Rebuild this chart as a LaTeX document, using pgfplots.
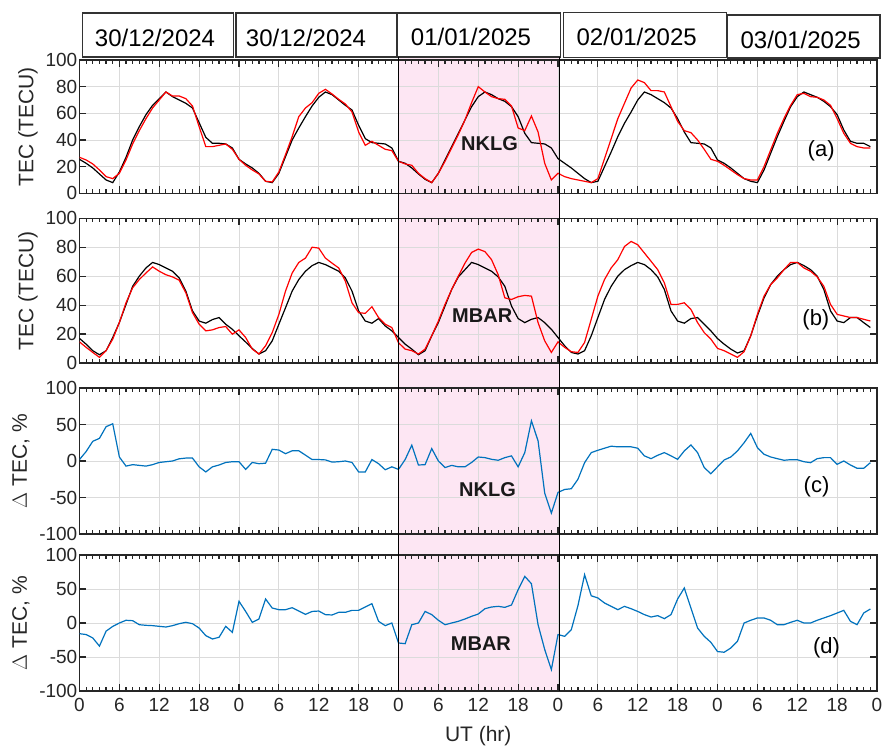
\documentclass[border=0pt]{standalone}
\usepackage{pgfplots}
\pgfplotsset{compat=1.18}
\usepackage{pgfplotstable}
\usepackage{fontspec}
\setmainfont{Liberation Sans}
\definecolor{pinkbg}{RGB}{253,230,243}
\definecolor{mblue}{RGB}{0,114,189}
\definecolor{axgray}{RGB}{38,38,38}

% Panel (a): NKLG TEC, black = reference, red = observed
\pgfplotstableread{
h k r
0 25.5 27
1 22.5 25
2 19 22
3 14.5 17.5
4 10 12.5
5 8 11
6 16 15
7 27 25
8 40 37
9 50 47
10 59 56
11 66 64
12 71 70
13 76 76
14 72.5 73
15 70 73
16 67.5 71
17 64 65.5
18 53 50
19 42 35
20 37.5 35
21 37.5 36
22 37 37
23 34 33
24 25.5 25.5
25 22 21
26 19 17.5
27 15 14.5
28 9 9
29 8 8.5
30 15 16
31 27.5 29
32 40 42.5
33 49 57.5
34 57.5 64
35 65.5 68
36 72 75
37 76 78
38 74 74.5
39 70 70.5
40 66 67
41 62.5 61
42 51 46
43 41 36
44 38 39
45 37.5 36
46 37 33
47 34 32
48 24 24
49 22.5 22
50 19 21
51 14.5 15
52 10.5 11
53 8 8
54 15 15
55 25 24
56 35 34
57 45 44
58 55 55
59 65 68
60 72.5 80
61 76 76
62 74 72.5
63 71 71
64 69 70.5
65 65 65.5
66 57.5 49
67 45 47
68 38 58
69 37.5 46
70 37 22.5
71 34 10
72 26 15
73 22.5 12.5
74 19 11
75 15 10
76 11 9
77 8 8
78 9 11
79 20 26
80 31 41
81 42.5 56
82 52.5 67.5
83 61 79
84 70 85
85 76 83
86 74 77
87 71 77
88 68 76
89 64 65
90 56 54
91 46 47
92 38 45.5
93 37.5 40
94 37 33
95 34 25.5
96 25 24
97 22.5 21
98 19 17.5
99 15 14
100 11 11
101 9 10
102 8 10
103 17.5 20
104 30 32.5
105 42.5 45
106 54 56
107 65 66
108 72.5 74
109 76 75
110 74 72.5
111 72 72
112 69 70
113 65 66
114 59 56
115 47.5 45
116 39 37.5
117 37.5 35
118 37.5 34
119 35 34
}\tabA

% Panel (b): MBAR TEC
\pgfplotstableread{
h k r
0 17 14.6
1 13 10.8
2 8.5 7.3
3 5.7 3.9
4 8.5 8.5
5 17.6 16.5
6 28 28
7 40.5 41.6
8 53 52
9 60 57.7
10 65.7 62.2
11 69.5 66.4
12 68 63.4
13 65.7 61
14 63.4 59.5
15 58.8 57.2
16 49.7 48.5
17 36 34.8
18 29 26.8
19 27.5 22.2
20 30 22.9
21 31.4 24.5
22 26.8 25.2
23 23.3 19.9
24 18.8 22.9
25 14.5 17.6
26 10 9.6
27 6.2 6.2
28 8.5 11.9
29 15.3 21
30 26.8 33.6
31 38.2 49.7
32 49.7 62.2
33 57.7 69.5
34 63.4 72.5
35 67.3 80
36 69.5 79.4
37 68 72.5
38 65.7 69
39 63.4 65.7
40 58.8 56.5
41 49.7 41.6
42 36 34.8
43 29 34.3
44 27.5 38.9
45 30.7 31.4
46 25.6 26.8
47 22.2 24.5
48 17.6 14
49 13 9.6
50 9.6 8.5
51 5.7 6.2
52 8.5 9.6
53 18.8 18.8
54 28 29
55 39.4 40.5
56 50.8 50.8
57 59.5 60
58 64.5 69
59 69.5 76.4
60 68 78.7
61 65.7 77
62 63.4 71.4
63 59.5 61
64 53 45
65 39.4 43.9
66 30.7 45.8
67 27.9 46.7
68 30.2 46.2
69 31.4 27.9
70 27.9 15.3
71 23.3 7.3
72 17.6 14.6
73 11.9 10.8
74 7.3 7.8
75 6.2 7.3
76 8.5 14.2
77 18.8 30.2
78 31.4 46.2
79 43.9 57.7
80 53 65.7
81 60 71.4
82 64.5 80.5
83 67.3 84
84 69.5 81.7
85 68 76
86 64.5 70.3
87 59.5 64.5
88 50.8 55.4
89 36 40.5
90 29 40.5
91 27.5 41.6
92 30.7 37
93 31.4 27.9
94 26.8 21
95 22.2 16.5
96 16.9 10.1
97 13 8.5
98 9.6 6.2
99 6.9 3.9
100 8.5 7.8
101 18.8 18.8
102 32.5 33.6
103 45 46.2
104 54.2 54.2
105 60 58.8
106 64.5 64.5
107 68 69.5
108 69.5 69.5
109 67.3 65.7
110 64.5 63.4
111 60 59.5
112 50.8 53
113 36 40.5
114 29 33.6
115 27.9 32.5
116 31.4 31.4
117 31.4 31.4
118 27.9 30.2
119 24.5 29
}\tabB

% Panel (c): NKLG Delta TEC (%)
\pgfplotstableread{
h d
0 2
1 13
2 27
3 31
4 47
5 51
6 5.5
7 -7
8 -5
9 -6
10 -7
11 -5
12 -2
13 -1
14 0
15 3
16 4
17 4
18 -8
19 -15
20 -8
21 -5.5
22 -2
23 -1
24 -1
25 -11.5
26 -2
27 -3.7
28 -3
29 16
30 15
31 10
32 14
33 14
34 8
35 2
36 2
37 1.5
38 -1.5
39 -1
40 0
41 -2
42 -15
43 -15
44 2
45 -3.7
46 -12
47 -8
48 -11.5
49 2
50 21.7
51 -5.5
52 -5
53 17
54 0
55 -9
56 -6
57 -8
58 -8
59 -2
60 5.5
61 4.6
62 2.3
63 1
64 4.6
65 7
66 -8
67 11.5
68 55
69 27.6
70 -44
71 -71.4
72 -43
73 -39
74 -38
75 -25
76 -2.3
77 11.5
78 14.7
79 17.5
80 20.3
81 19.4
82 19.4
83 19.4
84 17.5
85 7
86 3.2
87 7.8
88 11.5
89 7
90 2.3
91 13.8
92 22
93 11.5
94 -9
95 -17.5
96 -8
97 1.4
98 5.5
99 13.8
100 25
101 37.8
102 18.4
103 9.2
104 5.5
105 3.2
106 1
107 1.8
108 1.8
109 -1
110 -2.3
111 3.2
112 4.6
113 4.6
114 -4.6
115 0
116 -5.5
117 -10
118 -10
119 -2.3
}\tabC

% Panel (d): MBAR Delta TEC (%)
\pgfplotstableread{
h d
0 -15.7
1 -17
2 -22
3 -34
4 -12
5 -5
6 0
7 4
8 3.4
9 -2.5
10 -3.4
11 -3.9
12 -4.9
13 -5.9
14 -3.9
15 -1
16 1
17 -1
18 -7.4
19 -18.6
20 -23.5
21 -21
22 -4.9
23 -13.7
24 31.9
25 17
26 1
27 5.9
28 35.3
29 22
30 19.6
31 19.6
32 22.5
33 17.6
34 12.7
35 17
36 17.6
37 12.3
38 11.8
39 15.7
40 15.7
41 18.6
42 18.6
43 23.5
44 28.4
45 2.5
46 -3.9
47 0
48 -29.4
49 -30.4
50 -2.5
51 0
52 17
53 12.3
54 4
55 -2.5
56 0
57 2.5
58 5.9
59 9.8
60 13.2
61 21
62 23.5
63 24.5
64 23
65 26.5
66 49
67 68.6
68 57.8
69 -2.5
70 -39
71 -68.6
72 -17
73 -19.6
74 -9.8
75 25.5
76 71
77 40
78 36.8
79 29.4
80 24.5
81 19.6
82 24.5
83 21
84 17
85 12.3
86 8.8
87 10.8
88 6.4
89 12.3
90 35.3
91 51.5
92 22
93 -7.4
94 -19.6
95 -28.4
96 -42
97 -43
98 -36.8
99 -27
100 0
101 4
102 7.4
103 7.4
104 4
105 -2.5
106 -2.5
107 1
108 4
109 0
110 0
111 4
112 7.4
113 10.8
114 14.7
115 18.6
116 2.5
117 -2.5
118 14.7
119 20.6
}\tabD

\pgfplotsset{
  panel/.style={
    anchor=south west, scale only axis, width=797.5pt,
    xmin=0, xmax=120, xtick={0,6,...,120}, minor x tick num=5,
    xticklabels={},
    tick align=inside, tick pos=both,
    major tick length=7pt, minor tick length=4pt,
    major tick style={axgray, line width=1.2pt},
    minor tick style={axgray, line width=1.2pt},
    grid=major, major grid style={black!14, line width=0.9pt},
    axis line style={axgray, line width=1.4pt},
    tick label style={font=\fontsize{19}{22}\selectfont, text=axgray},
    /pgf/number format/assume math mode=true,
    yticklabel style={inner xsep=2pt},
    xticklabel style={yshift=-4pt},
    ylabel style={font=\fontsize{21}{24}\selectfont, text=axgray, anchor=center},
  },
  tecpanel/.style={panel, ymin=0, ymax=100, ytick={0,20,...,100},
    ylabel={TEC (TECU)}, ylabel style={at={(axis description cs:-0.0646,0.5)}}},
  dpanel/.style={panel, ymin=-100, ymax=100, ytick={-100,-50,0,50,100},
    yticklabels={-100,-50,0,50,100},
    ylabel={$\Delta$ TEC, \%}, ylabel style={at={(axis description cs:-0.0734,0.5)}}},
}

\begin{document}
\begin{tikzpicture}
\useasboundingbox (0pt,0pt) rectangle (885pt,746pt);
% storm-day shading spanning all four panels
\fill[pinkbg] (398.8pt,55pt) rectangle (559.5pt,689pt);

% date boxes
\begin{scope}[line width=1.3pt, draw=black!80]
\draw (82.3pt,733pt) rectangle (233.7pt,689pt);
\draw (236pt,733pt) rectangle (397pt,689pt);
\draw (397pt,733pt) rectangle (560.7pt,689pt);
\draw (563.3pt,733.3pt) rectangle (726.7pt,688.7pt);
\draw (727.7pt,731pt) rectangle (880pt,688pt);
\end{scope}
\begin{scope}[font=\fontsize{24}{26}\selectfont]
\node at (155pt,708.3pt) {30/12/2024};
\node at (306pt,708.3pt) {30/12/2024};
\node at (471pt,709.3pt) {01/01/2025};
\node at (636.7pt,709.3pt) {02/01/2025};
\node at (800.7pt,706.5pt) {03/01/2025};
\end{scope}

% (a)
\begin{axis}[tecpanel, at={(79.5pt,552.7pt)}, height=133.3pt]
\addplot[black, line width=1.2pt] table[x=h,y=k]{\tabA};
\addplot[red, line width=1.2pt] table[x=h,y=r]{\tabA};
\node[font=\bfseries\fontsize{20}{22}\selectfont, text=black!90] at (axis cs:61.7,37.5) {NKLG};
\node[font=\fontsize{22}{24}\selectfont] at (axis cs:111.6,31.9) {(a)};
\end{axis}

% (b)
\begin{axis}[tecpanel, at={(79.5pt,383pt)}, height=144.7pt]
\addplot[black, line width=1.2pt] table[x=h,y=k]{\tabB};
\addplot[red, line width=1.2pt] table[x=h,y=r]{\tabB};
\node[font=\bfseries\fontsize{20}{22}\selectfont, text=black!90] at (axis cs:60.6,32.5) {MBAR};
\node[font=\fontsize{22}{24}\selectfont] at (axis cs:110.8,29.7) {(b)};
\end{axis}

% (c)
\begin{axis}[dpanel, at={(79.5pt,212pt)}, height=146pt]
\addplot[mblue, line width=1.2pt] table[x=h,y=d]{\tabC};
\node[font=\bfseries\fontsize{20}{22}\selectfont, text=black!90] at (axis cs:61.4,-39.7) {NKLG};
\node[font=\fontsize{22}{24}\selectfont] at (axis cs:110.9,-35.2) {(c)};
\end{axis}

% (d)
\begin{axis}[dpanel, at={(79.5pt,55pt)}, height=136pt,
  xticklabels={0,6,12,18,0,6,12,18,0,6,12,18,0,6,12,18,0,6,12,18,0},
  xlabel={UT (hr)},
  xlabel style={font=\fontsize{21}{24}\selectfont, text=axgray, at={(axis description cs:0.5,0)}, anchor=center, yshift=-45pt}]
\addplot[mblue, line width=1.2pt] table[x=h,y=d]{\tabD};
\node[font=\bfseries\fontsize{20}{22}\selectfont, text=black!90] at (axis cs:60.4,-29.9) {MBAR};
\node[font=\fontsize{22}{24}\selectfont] at (axis cs:112.4,-37.2) {(d)};
\end{axis}

% edges of the shaded interval, on top of the grids
\draw[black, line width=1pt] (398.8pt,55pt) -- (398.8pt,689pt);
\draw[black, line width=1pt] (559.5pt,55pt) -- (559.5pt,689pt);
\end{tikzpicture}
\end{document}
